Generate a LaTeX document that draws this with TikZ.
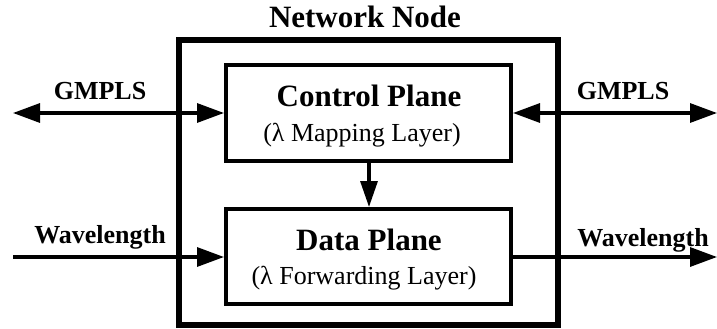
\documentclass[tikz,border=0pt]{standalone}
\usepackage{fontspec}
\setmainfont{Liberation Serif}
\usetikzlibrary{arrows.meta}
\begin{document}
\begin{tikzpicture}[x=1pt,y=-1pt,
  outerbox/.style={draw,line width=6pt},
  planebox/.style={draw,line width=4pt,fill=white},
  conn/.style={line width=3.2pt,-{Triangle[length=27pt,width=19pt]}},
  conn2/.style={line width=3.2pt,{Triangle[length=27pt,width=19pt]}-{Triangle[length=27pt,width=19pt]}},
  lbl/.style={font=\fontsize{26}{28}\selectfont\bfseries,inner sep=0pt},
  ttl/.style={font=\fontsize{31}{34}\selectfont\bfseries,inner sep=0pt},
  sub/.style={font=\fontsize{26}{28}\selectfont,inner sep=0pt}]
\useasboundingbox (0,0) rectangle (717,329);
\draw[outerbox] (178.5,40) rectangle (558,325);
\node[ttl,anchor=base] (title) at (365,28) {Network Node};
\node[planebox,minimum width=285pt,minimum height=95pt] (cp) at (368.5,113) {};
\node[planebox,minimum width=285pt,minimum height=95pt] (dp) at (368.5,256.5) {};
\node[ttl,anchor=base] (cpt) at (369,106) {Control Plane};
\node[sub,anchor=base] (cps) at (362,141) {(λ Mapping Layer)};
\node[ttl,anchor=base] (dpt) at (369,250) {Data Plane};
\node[sub,anchor=base] (dps) at (364,284) {(λ Forwarding Layer)};
\coordinate (gl) at (13,113);
\coordinate (gr) at (717,113);
\coordinate (wl) at (13,257);
\coordinate (wr) at (717,257);
\draw[conn2] (gl) -- (cp.west |- gl);
\draw[conn2] (cp.east |- gr) -- (gr);
\draw[conn] (wl) -- (dp.west |- wl);
\draw[conn] (dp.east |- wr) -- (wr);
\draw[conn,-{Triangle[length=26pt,width=17pt]}] (cp.south -| 369,0) -- (dp.north -| 369,0);
\node[lbl,anchor=base] (g1) at (100,99) {GMPLS};
\node[lbl,anchor=base] (g2) at (623,99) {GMPLS};
\node[lbl,anchor=base] (w1) at (100,243) {Wavelength};
\node[lbl,anchor=base] (w2) at (643,246) {Wavelength};
\end{tikzpicture}
\end{document}
